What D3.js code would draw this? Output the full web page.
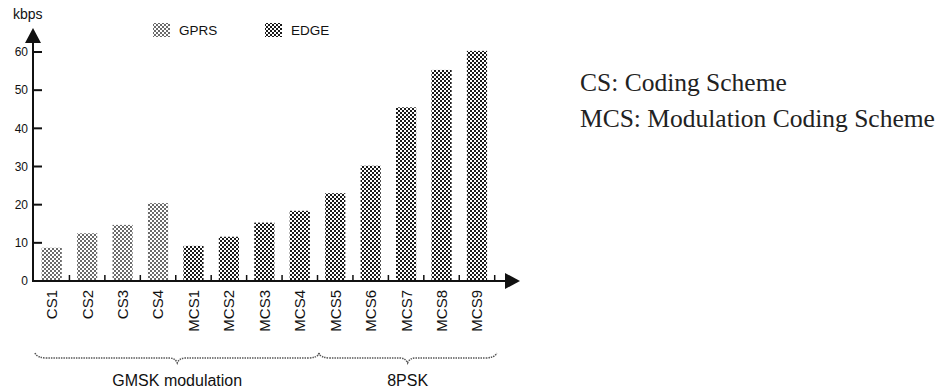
<!DOCTYPE html>
<html>
<head>
<meta charset="utf-8">
<script src="https://cdn.jsdelivr.net/npm/d3@7"></script>
<style>
  body { margin: 0; background: #fff; }
  svg { display: block; }
</style>
</head>
<body>
<div id="canvas"></div>
<script>
"use strict"

/* Data */
let gprsCats = ["CS1", "CS2", "CS3", "CS4"];
let gprsValues = [8.7, 12.5, 14.7, 20.4];
let edgeCats = ["MCS1", "MCS2", "MCS3", "MCS4", "MCS5", "MCS6", "MCS7", "MCS8", "MCS9"];
let edgeValues = [9.2, 11.6, 15.3, 18.4, 23.0, 30.2, 45.5, 55.3, 60.3];
let yTicks = [0, 10, 20, 30, 40, 50, 60];
let groups = [
    {label: "GMSK modulation", from: "CS1", to: "MCS4"},
    {label: "8PSK", from: "MCS5", to: "MCS9"}
];
let notes = ["CS: Coding Scheme", "MCS: Modulation Coding Scheme"];

let bars = gprsCats.map((c, i) => ({cat: c, value: gprsValues[i], series: "GPRS"}))
    .concat(edgeCats.map((c, i) => ({cat: c, value: edgeValues[i], series: "EDGE"})));

/* Drawing config */
let svgWidth = 948;
let svgHeight = 392;
let axisX = 33;
let axisY = 281;
let ink = "#111";
let sans = "'Liberation Sans', Arial, sans-serif";

let svg = d3.select("#canvas")
    .append("svg")
    .attr("width", svgWidth)
    .attr("height", svgHeight);

/* Checker patterns for the two series */
let defs = svg.append("defs");
function checker(id, color) {
    let p = defs.append("pattern")
        .attr("id", id)
        .attr("patternUnits", "userSpaceOnUse")
        .attr("width", 4)
        .attr("height", 4);
    p.append("rect").attr("width", 4).attr("height", 4).attr("fill", "#fff");
    p.append("rect").attr("x", 0).attr("y", 0).attr("width", 2).attr("height", 2).attr("fill", color);
    p.append("rect").attr("x", 2).attr("y", 2).attr("width", 2).attr("height", 2).attr("fill", color);
}
checker("gprsFill", "#6a6a6a");
checker("edgeFill", "#1a1a1a");
let fillOf = s => s === "GPRS" ? "url(#gprsFill)" : "url(#edgeFill)";

/* Scales */
let xScale = d3.scaleBand()
    .domain(bars.map(d => d.cat))
    .range([34, 494.7])
    .paddingInner(0.43)
    .paddingOuter(0.215);

let yScale = d3.scaleLinear()
    .domain([0, 60])
    .range([axisY, 52]);

/* Bars */
svg.selectAll("rect.bar")
    .data(bars)
    .join("rect")
    .attr("class", "bar")
    .attr("x", d => xScale(d.cat))
    .attr("y", d => yScale(d.value))
    .attr("width", xScale.bandwidth())
    .attr("height", d => yScale(0) - yScale(d.value))
    .attr("fill", d => fillOf(d.series));

/* Y axis with arrow */
svg.append("line")
    .attr("x1", axisX).attr("x2", axisX)
    .attr("y1", axisY + 1).attr("y2", 40)
    .attr("stroke", ink).attr("stroke-width", 2);
svg.append("path")
    .attr("d", `M${axisX},28 L${axisX - 8},43 L${axisX + 8},43 Z`)
    .attr("fill", ink);

svg.selectAll("line.ytick")
    .data(yTicks.filter(t => t > 0))
    .join("line")
    .attr("class", "ytick")
    .attr("x1", axisX).attr("x2", axisX + 9)
    .attr("y1", d => yScale(d)).attr("y2", d => yScale(d))
    .attr("stroke", ink).attr("stroke-width", 2);

svg.selectAll("text.ylab")
    .data(yTicks)
    .join("text")
    .attr("class", "ylab")
    .attr("x", 28)
    .attr("y", d => yScale(d))
    .attr("dy", "0.35em")
    .attr("text-anchor", "end")
    .attr("font-family", sans)
    .attr("font-size", 12)
    .attr("fill", ink)
    .text(d => d);

svg.append("text")
    .attr("x", 13).attr("y", 19)
    .attr("font-family", sans)
    .attr("font-size", 14)
    .attr("fill", ink)
    .text("kbps");

/* X axis with arrow and boundary ticks */
svg.append("line")
    .attr("x1", axisX - 1).attr("x2", 508)
    .attr("y1", axisY).attr("y2", axisY)
    .attr("stroke", ink).attr("stroke-width", 2);
svg.append("path")
    .attr("d", `M520,${axisY} L505,${axisY - 8} L505,${axisY + 8} Z`)
    .attr("fill", ink);

let gap = xScale.step() - xScale.bandwidth();
svg.selectAll("line.xtick")
    .data(bars)
    .join("line")
    .attr("class", "xtick")
    .attr("x1", d => xScale(d.cat) + xScale.bandwidth() + gap / 2)
    .attr("x2", d => xScale(d.cat) + xScale.bandwidth() + gap / 2)
    .attr("y1", axisY).attr("y2", axisY - 6)
    .attr("stroke", ink).attr("stroke-width", 1.5);

/* Rotated category labels */
svg.selectAll("text.xlab")
    .data(bars)
    .join("text")
    .attr("class", "xlab")
    .attr("transform", d => `translate(${xScale(d.cat) + xScale.bandwidth() / 2},290) rotate(-90)`)
    .attr("dy", "0.36em")
    .attr("text-anchor", "end")
    .attr("font-family", sans)
    .attr("font-size", 15)
    .attr("fill", ink)
    .text(d => d.cat);

/* Curly braces for modulation groups */
function brace(x1, x2, y) {
    let m = (x1 + x2) / 2;
    return `M${x1},${y - 5} Q${x1 + 2},${y} ${x1 + 12},${y} L${m - 8},${y} Q${m - 2},${y} ${m},${y + 5}`
        + ` Q${m + 2},${y} ${m + 8},${y} L${x2 - 12},${y} Q${x2 - 2},${y} ${x2},${y - 5}`;
}
groups.forEach(g => {
    let x1 = xScale(g.from) - gap / 2 + 1;
    let x2 = xScale(g.to) + xScale.bandwidth() + gap / 2 + 2;
    svg.append("path")
        .attr("d", brace(x1, x2, 358))
        .attr("fill", "none")
        .attr("stroke", "#555")
        .attr("stroke-width", 1.5)
        .attr("stroke-dasharray", "1.5,1");
    svg.append("text")
        .attr("x", (x1 + x2) / 2)
        .attr("y", 386)
        .attr("text-anchor", "middle")
        .attr("font-family", sans)
        .attr("font-size", 16)
        .attr("fill", ink)
        .text(g.label);
});

/* Legend */
let legend = [{name: "GPRS", x: 153}, {name: "EDGE", x: 265}];
legend.forEach(l => {
    svg.append("rect")
        .attr("x", l.x).attr("y", 23)
        .attr("width", 17).attr("height", 14)
        .attr("fill", fillOf(l.name));
    svg.append("text")
        .attr("x", l.x + 26).attr("y", 35)
        .attr("font-family", sans)
        .attr("font-size", 13.5)
        .attr("fill", ink)
        .text(l.name);
});

/* Notes on the right */
svg.selectAll("text.note")
    .data(notes)
    .join("text")
    .attr("class", "note")
    .attr("x", 580)
    .attr("y", (d, i) => 91 + i * 36)
    .attr("font-family", "'Liberation Serif', 'Times New Roman', serif")
    .attr("font-size", 25.5)
    .attr("fill", "#222")
    .text(d => d);
</script>
</body>
</html>
